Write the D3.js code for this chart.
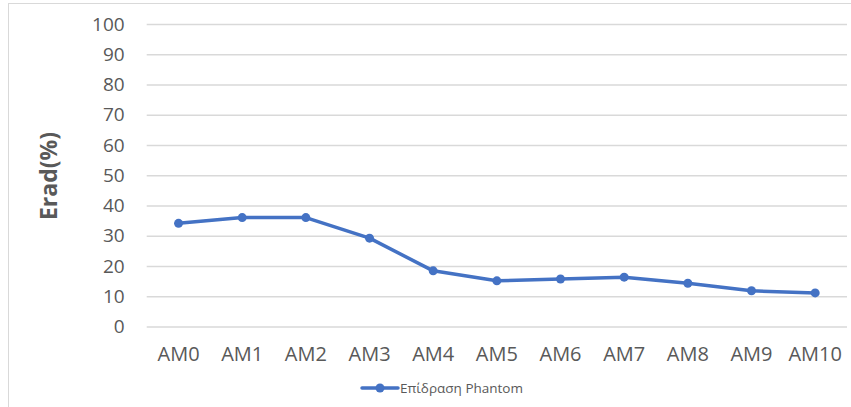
<!DOCTYPE html>
<html>
<head>
<meta charset="utf-8">
<script src="https://cdn.jsdelivr.net/npm/d3@7"></script>
<style>
  html, body { margin: 0; padding: 0; background: #fff; }
  svg { display: block; font-family: "Open Sans", "Noto Sans", sans-serif; }
</style>
</head>
<body>
<svg id="chart" width="851" height="407"></svg>
<script>
// Categories (x axis)
const categories = ["AM0", "AM1", "AM2", "AM3", "AM4", "AM5", "AM6", "AM7", "AM8", "AM9", "AM10"];
// Series values: Erad (%)
const eradValues = [34.1, 36.0, 36.0, 29.2, 18.4, 15.1, 15.7, 16.3, 14.3, 11.8, 11.1];
// Y axis ticks
const yTicks = [0, 10, 20, 30, 40, 50, 60, 70, 80, 90, 100];
const seriesName = "Επίδραση Phantom";
const yTitle = "Erad(%)";

const W = 851, H = 407;
const plot = { left: 146.7, right: 847, top: 24, bottom: 326.5 };
const textColor = "#595959";
const gridColor = "#d9d9d9";
const lineColor = "#4472C4";

const svg = d3.select("#chart");

// outer chart frame
svg.append("rect")
  .attr("x", 8.5).attr("y", 3.5)
  .attr("width", W).attr("height", H)
  .attr("fill", "none").attr("stroke", "#d9d9d9").attr("stroke-width", 1);

const x = d3.scaleBand().domain(categories).range([plot.left, plot.right]);
const y = d3.scaleLinear().domain([0, 100]).range([plot.bottom, plot.top]);

// horizontal gridlines + y tick labels
const yAxis = d3.axisLeft(y).tickValues(yTicks).tickSize(-(plot.right - plot.left)).tickPadding(22);
const gy = svg.append("g").attr("transform", `translate(${plot.left},0)`).call(yAxis);
gy.select(".domain").remove();
gy.selectAll(".tick line").attr("stroke", gridColor).attr("stroke-width", 1.3);
gy.selectAll(".tick text")
  .attr("fill", textColor).attr("font-size", 19).attr("font-family", "'Open Sans', sans-serif");

// x axis labels
const xAxis = d3.axisBottom(x).tickSize(0).tickPadding(20);
const gx = svg.append("g").attr("transform", `translate(0,${plot.bottom})`).call(xAxis);
gx.select(".domain").remove();
gx.selectAll(".tick text")
  .attr("fill", textColor).attr("font-size", 20).attr("font-family", "'Open Sans', sans-serif");

// y axis title
svg.append("text")
  .attr("transform", `translate(57,176) rotate(-90)`)
  .attr("text-anchor", "middle")
  .attr("fill", textColor)
  .attr("font-size", 23).attr("font-weight", "bold")
  .text(yTitle);

// series line
const cx = d => x(d) + x.bandwidth() / 2;
const line = d3.line().x((d, i) => cx(categories[i])).y(d => y(d));
svg.append("path")
  .datum(eradValues)
  .attr("d", line)
  .attr("fill", "none").attr("stroke", lineColor)
  .attr("stroke-width", 3.5).attr("stroke-linejoin", "round").attr("stroke-linecap", "round");

svg.append("g").selectAll("circle")
  .data(eradValues)
  .join("circle")
  .attr("cx", (d, i) => cx(categories[i]))
  .attr("cy", d => y(d))
  .attr("r", 4.5)
  .attr("fill", lineColor);

// legend
const lg = svg.append("g").attr("transform", "translate(362,388)");
lg.append("line").attr("x1", 0).attr("x2", 36).attr("y1", 0).attr("y2", 0)
  .attr("stroke", lineColor).attr("stroke-width", 3.5).attr("stroke-linecap", "round");
lg.append("circle").attr("cx", 18).attr("cy", 0).attr("r", 4.5).attr("fill", lineColor);
lg.append("text").attr("x", 38).attr("y", 0).attr("dy", "0.35em")
  .attr("fill", textColor).attr("font-size", 13.5)
  .text(seriesName);
</script>
</body>
</html>
